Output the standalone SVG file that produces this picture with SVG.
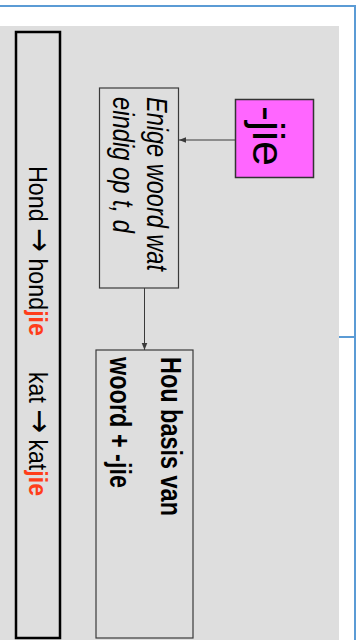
<svg xmlns="http://www.w3.org/2000/svg" width="356" height="640" viewBox="0 0 356 640">
<style>
.t{font-family:"Liberation Sans",Arial,sans-serif;fill:#000}
.box{fill:none;stroke:#3a3a3a;stroke-width:1.2}
.blue{stroke:#5b9bd5;stroke-width:2;fill:none}
.con{stroke:#3a3a3a;stroke-width:1;fill:none}
.red{fill:#ff3d1a;font-weight:bold}
.arr{font-family:"DejaVu Sans",sans-serif;font-size:27px}
</style>
<defs>
<marker id="ah" viewBox="0 0 8 8" refX="8" refY="4" markerWidth="7" markerHeight="7" markerUnits="userSpaceOnUse" orient="auto">
<path d="M0,0.8 L8,4 L0,7.2 Z" fill="#3a3a3a"/>
</marker>
</defs>
<rect x="0" y="0" width="356" height="640" fill="#ffffff"/>
<rect x="0" y="26" width="339" height="614" fill="#dedede"/>
<g id="frame">
<path class="blue" d="M0,6 H355 V640"/>
<path class="blue" d="M339,337 H355"/>
</g>
<g id="examples">
<rect x="16" y="32" width="44" height="606" fill="none" stroke="#000" stroke-width="2.5"/>
<text class="t" font-size="22" transform="translate(29,166) scale(1.2,1) rotate(90)" textLength="170" lengthAdjust="spacingAndGlyphs">Hond <tspan class="arr">→</tspan> hond<tspan class="red">jie</tspan></text>
<text class="t" font-size="22" transform="translate(29,372) scale(1.2,1) rotate(90)" textLength="124" lengthAdjust="spacingAndGlyphs">kat <tspan class="arr">→</tspan> kat<tspan class="red">jie</tspan></text>
</g>
<g id="enige">
<rect class="box" x="99.5" y="88" width="79" height="200"/>
<text class="t" font-size="23" font-style="italic" transform="translate(147,97) scale(1.25,1) rotate(90)" textLength="174" lengthAdjust="spacingAndGlyphs">Enige woord wat</text>
<text class="t" font-size="23" font-style="italic" transform="translate(113,97) scale(1.25,1) rotate(90)" textLength="136" lengthAdjust="spacingAndGlyphs">eindig op t, d</text>
</g>
<g id="jie">
<rect x="235.5" y="99.5" width="78" height="78" fill="#ff66ff" stroke="#333" stroke-width="1.5"/>
<text class="t" font-size="36" transform="translate(253,106) scale(1.25,1) rotate(90)" textLength="60" lengthAdjust="spacingAndGlyphs">-jie</text>
</g>
<g id="hou">
<rect class="box" x="96" y="350" width="97" height="288"/>
<text class="t" font-size="23" font-weight="bold" transform="translate(161,357) scale(1.25,1) rotate(90)" textLength="159" lengthAdjust="spacingAndGlyphs">Hou basis van</text>
<text class="t" font-size="23" font-weight="bold" transform="translate(110,357) scale(1.25,1) rotate(90)" textLength="131" lengthAdjust="spacingAndGlyphs">woord + -jie</text>
</g>
<g id="connectors">
<path class="con" d="M235,140 H179" marker-end="url(#ah)"/>
<path class="con" d="M144.5,288 V350" marker-end="url(#ah)"/>
</g>
</svg>
